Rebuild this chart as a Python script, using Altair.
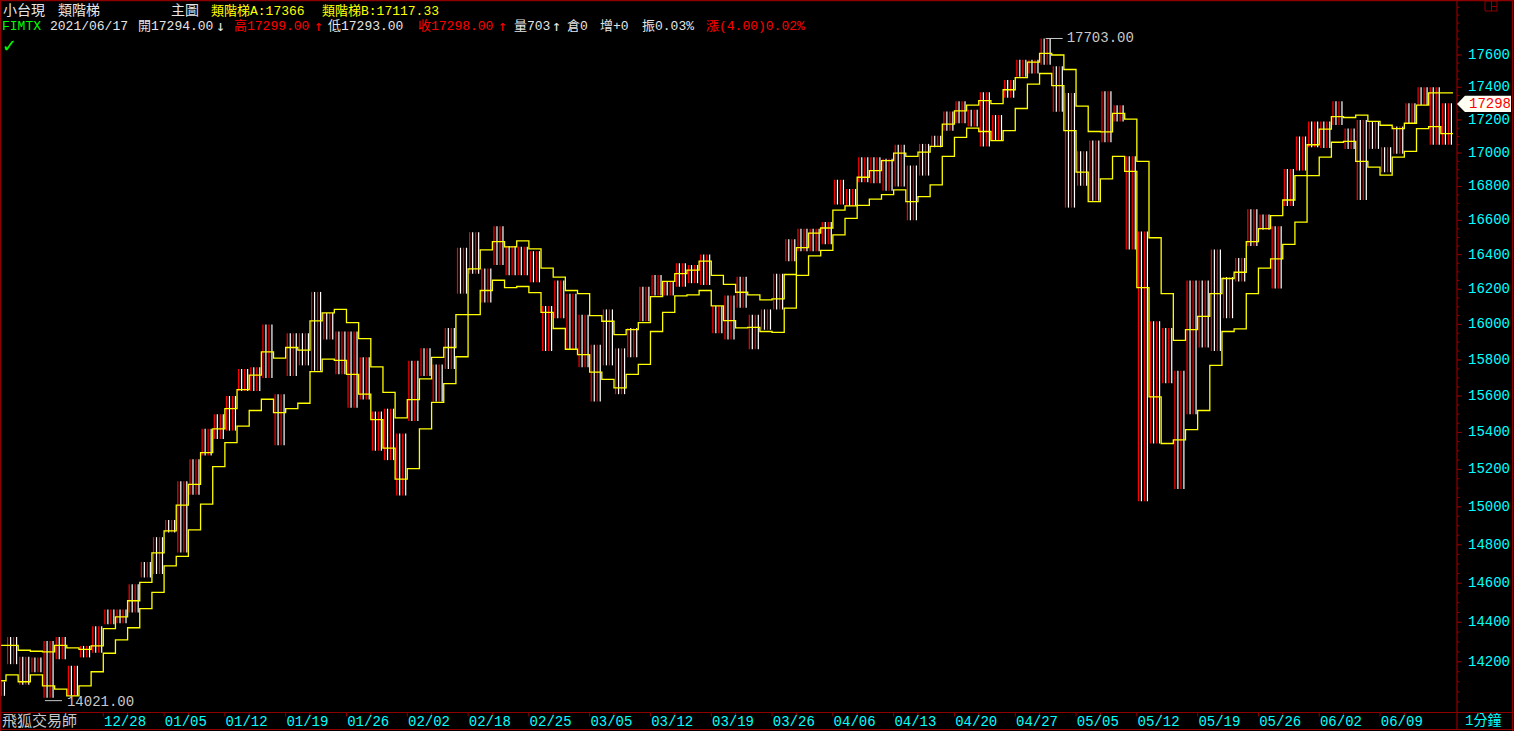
import altair as alt
import pandas as pd

# ------------------------------------------------------------------ data
HIGH = [14100, 14325, 14225, 14222, 14305, 14325, 14180, 14280, 14380, 14465,
        14465, 14595, 14710, 14840, 14930, 15137, 15255, 15420, 15500, 15600,
        15750, 15760, 16000, 15610, 15950, 15950, 16185, 16065, 15960, 15960,
        15815, 15515, 15530, 15395, 15795, 15865, 15775, 15980, 16440, 16530,
        16320, 16565, 16450, 16445, 16420, 16105, 16250, 16175, 16055, 15885,
        16085, 15865, 15980, 16215, 16282, 16245, 16350, 16340, 16400, 16105,
        16165, 16272, 16055, 16085, 16290, 16490, 16550, 16550, 16590, 16840,
        16785, 16975, 16975, 16965, 17050, 16925, 17055, 17105, 17252, 17315,
        17262, 17370, 17230, 17445, 17570, 17570, 17703, 17530, 17365, 17010,
        17075, 17375, 17290, 16980, 16535, 16018, 15980, 15740, 16250, 16250,
        16430, 16270, 16380, 16665, 16635, 16565, 16905, 17100, 17190, 17190,
        17315, 17148, 17200, 17190, 17035, 17160, 17302, 17400, 17400, 17302]

LOW = [14030, 14188, 14085, 14147, 14021, 14213, 14030, 14222, 14245, 14390,
       14395, 14450, 14630, 14648, 14865, 14760, 15065, 15275, 15365, 15410,
       15627, 15627, 15700, 15330, 15710, 15770, 15740, 15915, 15720, 15535,
       15580, 15300, 15250, 15060, 15462, 15710, 15570, 15750, 16175, 16290,
       16125, 16340, 16280, 16280, 16240, 15850, 16035, 15860, 15760, 15570,
       15770, 15610, 15815, 16018, 16165, 16165, 16215, 16235, 16225, 15950,
       15915, 16095, 15860, 15970, 16085, 16362, 16420, 16420, 16460, 16693,
       16685, 16825, 16820, 16775, 16800, 16600, 16865, 17035, 17135, 17180,
       17160, 17040, 17075, 17335, 17465, 17485, 17540, 17250, 16675, 16805,
       16715, 17065, 17190, 16430, 15030, 15340, 15670, 15095, 15500, 15870,
       15850, 16035, 16245, 16450, 16545, 16205, 16685, 16895, 17035, 17030,
       17170, 17025, 16720, 17025, 16885, 16995, 17180, 17292, 17050, 17050]

STEP_A = [14283, 14283, 14258, 14253, 14250, 14283, 14270, 14262, 14280, 14368,
          14427, 14510, 14605, 14758, 14873, 15009, 15120, 15290, 15420, 15530,
          15635, 15715, 15845, 15810, 15870, 15855, 16020, 16065, 16085, 16010,
          15920, 15762, 15620, 15480, 15580, 15695, 15815, 15870, 16055, 16318,
          16428, 16475, 16445, 16480, 16433, 16322, 16270, 16193, 16175, 16050,
          16018, 15942, 15970, 16010, 16158, 16245, 16290, 16310, 16362, 16280,
          16228, 16183, 16168, 16140, 16145, 16285, 16440, 16525, 16555, 16660,
          16685, 16855, 16895, 16955, 17000, 16980, 17005, 17040, 17175, 17255,
          17290, 17318, 17300, 17385, 17460, 17555, 17610, 17600, 17510, 17285,
          17130, 17128, 17240, 17205, 16950, 16498, 16175, 15910, 15970, 16045,
          16175, 16262, 16298, 16475, 16552, 16628, 16720, 16865, 17050, 17145,
          17220, 17215, 17230, 17192, 17168, 17148, 17180, 17290, 17366, 17366]

STEP_B = [14105, 14134, 14100, 14134, 14080, 14063, 14030, 14080, 14150, 14243,
          14310, 14372, 14470, 14553, 14690, 14740, 14878, 15015, 15215, 15345,
          15435, 15520, 15582, 15508, 15530, 15560, 15735, 15805, 15798, 15720,
          15610, 15470, 15315, 15148, 15204, 15420, 15565, 15668, 15818, 16055,
          16193, 16252, 16210, 16216, 16181, 16068, 15977, 15860, 15830, 15732,
          15692, 15645, 15720, 15775, 15960, 16068, 16162, 16168, 16193, 16105,
          16022, 15980, 15983, 15960, 15955, 16093, 16280, 16393, 16425, 16515,
          16612, 16688, 16725, 16752, 16780, 16710, 16740, 16810, 16980, 17095,
          17150, 17130, 17075, 17135, 17270, 17420, 17485, 17410, 17135, 16885,
          16710, 16845, 16980, 16890, 16210, 15595, 15340, 15360, 15415, 15520,
          15770, 15960, 15975, 16175, 16322, 16375, 16460, 16590, 16865, 16975,
          17065, 17070, 16950, 16915, 16868, 16975, 17010, 17148, 17160, 17117.33]

DATE_LABELS = ["12/28", "01/05", "01/12", "01/19", "01/26", "02/02", "02/18",
               "02/25", "03/05", "03/12", "03/19", "03/26", "04/06", "04/13",
               "04/20", "04/27", "05/05", "05/12", "05/19", "05/26", "06/02",
               "06/09"]
DATE_LABEL_DAYS = [10, 15, 20, 25, 30, 35, 40, 45, 50, 55, 60, 65, 70, 75,
                   80, 85, 90, 95, 100, 105, 110, 115]
Y_TICKS = [14200, 14400, 14600, 14800, 15000, 15200, 15400, 15600, 15800,
           16000, 16200, 16400, 16600, 16800, 17000, 17200, 17400, 17600]
Y_MINOR = [v for v in range(14000, 17951, 50)]

LAST_CLOSE = 17298
PEAK_DAY, PEAK = 86, 17703.00
TROUGH_DAY, TROUGH = 4, 14021.00

# ------------------------------------------------------------------ styles
RED_LINE = "#8C0000"
CYAN = "#00FFFF"
MONO = "Liberation Mono, Noto Sans CJK TC, monospace"
CJK = "Noto Sans CJK TC, Liberation Mono"
ARROW = "DejaVu Sans Mono, DejaVu Sans"

xs = alt.Scale(domain=[0.17, 119.83], range=[2, 1457], nice=False, zero=False)
ys = alt.Scale(type="log", domain=[13950, 17933], range=[712, 2], nice=False, zero=False)

days = list(range(len(HIGH)))
candles = pd.DataFrame({"day": days, "hi": HIGH, "lo": LOW})

def step_frame(vals):
    xs_ = [d - 0.5 for d in days] + [days[-1] + 0.5]
    ys_ = list(vals) + [vals[-1]]
    return pd.DataFrame({"x": xs_, "v": ys_})

one = pd.DataFrame({"k": [0]})

layers = []

# candles: thin red / white strokes spanning each day's range
for off, col in [(-4.5, "#FF0000"), (-1.5, "#FFFFFF"), (1.5, "#FF0000"), (4.5, "#FFFFFF")]:
    layers.append(
        alt.Chart(candles).mark_rule(color=col, strokeWidth=1.2, xOffset=off).encode(
            x=alt.X("day:Q", scale=xs, axis=None),
            y=alt.Y("lo:Q", scale=ys, axis=None),
            y2="hi:Q",
        )
    )

# step lines
for vals in (STEP_B, STEP_A):
    layers.append(
        alt.Chart(step_frame(vals)).mark_line(
            color="#FFFF00", strokeWidth=1.3, interpolate="step-after"
        ).encode(
            x=alt.X("x:Q", scale=xs, axis=None),
            y=alt.Y("v:Q", scale=ys, axis=None),
        )
    )

# peak / trough annotations
peak_df = pd.DataFrame({"day": [PEAK_DAY], "day2": [PEAK_DAY + 1.4], "v": [PEAK],
                        "t": [f"{PEAK:.2f}"]})
trough_df = pd.DataFrame({"day": [TROUGH_DAY - 0.3], "day2": [TROUGH_DAY + 1.1],
                          "v": [TROUGH], "t": [f"{TROUGH:.2f}"]})
layers.append(alt.Chart(peak_df).mark_rule(color="#C8C8C8", strokeWidth=1).encode(
    x=alt.X("day:Q", scale=xs, axis=None), x2="day2:Q",
    y=alt.Y("v:Q", scale=ys, axis=None)))
layers.append(alt.Chart(peak_df).mark_text(
    color="#C8C8C8", font=MONO, fontSize=14, align="left", baseline="middle", dx=21).encode(
    x=alt.X("day:Q", scale=xs, axis=None), y=alt.Y("v:Q", scale=ys, axis=None), text="t:N"))
layers.append(alt.Chart(trough_df).mark_rule(color="#C8C8C8", strokeWidth=1, yOffset=3).encode(
    x=alt.X("day:Q", scale=xs, axis=None), x2="day2:Q",
    y=alt.Y("v:Q", scale=ys, axis=None)))
layers.append(alt.Chart(trough_df).mark_text(
    color="#C8C8C8", font=MONO, fontSize=14, align="left", baseline="middle", dx=22, dy=4).encode(
    x=alt.X("day:Q", scale=xs, axis=None), y=alt.Y("v:Q", scale=ys, axis=None), text="t:N"))

# ---------------------------------------------------------------- frame lines
def hrule(x1, x2, y, col=RED_LINE, w=1.2):
    return alt.Chart(one).mark_rule(color=col, strokeWidth=w).encode(
        x=alt.value(x1), x2=alt.value(x2), y=alt.value(y))

def vrule(x, y1, y2, col=RED_LINE, w=1.2):
    return alt.Chart(one).mark_rule(color=col, strokeWidth=w).encode(
        x=alt.value(x), y=alt.value(y1), y2=alt.value(y2))

layers += [
    hrule(0, 1514, 0.6), hrule(0, 1514, 712.5), hrule(0, 1514, 729.5),
    vrule(0.6, 0, 731), vrule(1512.5, 0, 731), vrule(1457, 0, 730),
]

# top-right small icon
layers.append(alt.Chart(one).mark_rect(fill=None, stroke=RED_LINE, strokeWidth=1).encode(
    x=alt.value(1485), x2=alt.value(1497), y=alt.value(1), y2=alt.value(11)))
layers.append(vrule(1491.5, 1, 11, w=1))
layers.append(hrule(1491.5, 1497, 6.5, w=1))

# y-axis ticks and labels
ymaj = pd.DataFrame({"v": Y_TICKS, "t": [str(v) for v in Y_TICKS]})
ymin = pd.DataFrame({"v": Y_MINOR})
layers.append(alt.Chart(ymin).mark_rule(color=RED_LINE, strokeWidth=1).encode(
    y=alt.Y("v:Q", scale=ys, axis=None), x=alt.value(1457), x2=alt.value(1459.5)))
layers.append(alt.Chart(ymaj).mark_rule(color=RED_LINE, strokeWidth=1).encode(
    y=alt.Y("v:Q", scale=ys, axis=None), x=alt.value(1457), x2=alt.value(1462)))
layers.append(alt.Chart(ymaj).mark_text(
    color=CYAN, font=MONO, fontSize=14, align="right", baseline="middle").encode(
    y=alt.Y("v:Q", scale=ys, axis=None), x=alt.value(1510), text="t:N"))

# last price marker
last_df = pd.DataFrame({"v": [LAST_CLOSE], "t": [str(LAST_CLOSE)]})
layers.append(alt.Chart(last_df).mark_point(
    shape="M-1.25,0 L-0.92,-0.34 L1,-0.34 L1,0.34 L-0.92,0.34 Z",
    size=2304, filled=True, color="#FFFFF4", opacity=1, strokeWidth=0).encode(
    y=alt.Y("v:Q", scale=ys, axis=None), x=alt.value(1487)))
layers.append(alt.Chart(last_df).mark_text(
    color="#FF0000", font=MONO, fontSize=14, align="center", baseline="middle").encode(
    y=alt.Y("v:Q", scale=ys, axis=None), x=alt.value(1490), text="t:N"))

# x-axis ticks and labels
xt = pd.DataFrame({"d": [d - 1.5 for d in DATE_LABEL_DAYS] + [d + 0.5 for d in DATE_LABEL_DAYS]})
layers.append(alt.Chart(xt).mark_rule(color=RED_LINE, strokeWidth=1).encode(
    x=alt.X("d:Q", scale=xs, axis=None), y=alt.value(712.5), y2=alt.value(716.5)))
xl = pd.DataFrame({"d": DATE_LABEL_DAYS, "t": DATE_LABELS})
layers.append(alt.Chart(xl).mark_text(
    color=CYAN, font=MONO, fontSize=14, align="center", baseline="middle", dx=3.5).encode(
    x=alt.X("d:Q", scale=xs, axis=None), y=alt.value(721.5), text="t:N"))

# ---------------------------------------------------------------- texts
def txt(s, x, y, col, size=13, font=MONO):
    return alt.Chart(one).mark_text(
        text=s, color=col, font=font, fontSize=size, align="left", baseline="middle"
    ).encode(x=alt.value(x), y=alt.value(y))

def fmt(v):
    s = f"{v:.2f}"
    return s[:-3] if s.endswith(".00") else s

WHITE = "#E6E6E6"
L1, L2 = 11, 26
layers += [
    txt("小台現", 3, L1, WHITE, 14, CJK),
    txt("類階梯", 58, L1, WHITE, 14, CJK),
    txt("主圖", 171, L1, WHITE, 14, CJK),
    txt("類階梯A:" + fmt(STEP_A[-1]), 211, L1, "#FFFF00", 13),
    txt("類階梯B:" + fmt(STEP_B[-1]), 322, L1, "#FFFF00", 13),
    txt("FIMTX", 2, L2, "#00FF00", 13),
    txt("2021/06/17", 50, L2, WHITE, 13),
    txt("開17294.00", 138, L2, WHITE, 13),
    txt("↓", 216, L2, WHITE, 15, ARROW),
    txt("高17299.00", 234, L2, "#FF0000", 13),
    txt("↑", 314, L2, "#FF0000", 15, ARROW),
    txt("低17293.00", 328, L2, WHITE, 13),
    txt("收17298.00", 418, L2, "#FF0000", 13),
    txt("↑", 498, L2, "#FF0000", 15, ARROW),
    txt("量703", 514, L2, WHITE, 13),
    txt("↑", 552, L2, WHITE, 15, ARROW),
    txt("倉0", 567, L2, WHITE, 13),
    txt("增+0", 600, L2, WHITE, 13),
    txt("振0.03%", 642, L2, WHITE, 13),
    txt("漲(4.00)0.02%", 706, L2, "#FF0000", 13),
    txt("✓", 2, 47, "#00FF00", 18, "DejaVu Sans"),
    txt("飛狐交易師", 2, 721, "#C8C8C8", 15, CJK),
    txt("1分鐘", 1465, 721, CYAN, 14, MONO),
]

chart = alt.layer(*layers).properties(
    width=1514, height=731, background="#000000", padding=0,
    autosize=alt.AutoSizeParams(type="none"),
).configure_view(stroke=None)

# remove the page margin so the chart fills the window like the reference
try:
    import altair.utils.html as _h
    _tpls = list(getattr(_h, "TEMPLATES", {}).values()) or [_h.HTML_TEMPLATE]
    _css = "<style>html,body{margin:0;padding:0;background:#000;overflow:hidden;}</style>"
    for _t in _tpls:
        _orig = _t.render
        def _render(*a, _o=_orig, **k):
            s = _o(*a, **k)
            if "<head>" in s:
                return s.replace("<head>", "<head>" + _css, 1)
            return _css + s
        _t.render = _render
except Exception:
    pass

chart.save("out.html", embed_options={"renderer": "svg", "actions": False})
